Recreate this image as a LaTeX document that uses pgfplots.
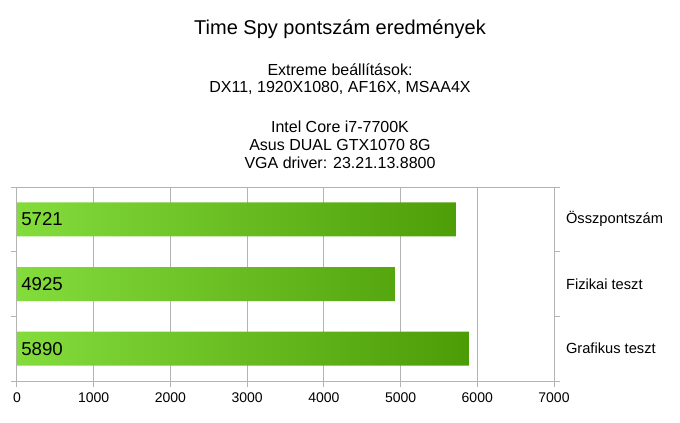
\documentclass[border=0pt]{standalone}
\usepackage{pgfplots}
\pgfplotsset{compat=1.18}
\usepackage{pgfplotstable}
\usepackage{fontspec}
\setmainfont{Liberation Sans}
\definecolor{barL}{HTML}{84DC3C}
\definecolor{barR}{HTML}{4C9C06}
\definecolor{gridc}{HTML}{B3B3B3}
\pgfplotstableread{
y val
2 5721
1 4925
0 5890
}\data
\begin{document}
\begin{tikzpicture}
\path[use as bounding box] (0,0) rectangle (510pt,316.5pt);
\node[font=\fontsize{15}{18}\selectfont] at (255pt,294.75pt) {Time Spy pontszám eredmények};
\begin{scope}[every node/.style={font=\fontsize{12}{14}\selectfont}]
\node at (255pt,264pt) {Extreme beállítások:};
\node at (255pt,250.5pt) {DX11, 1920X1080, AF16X, MSAA4X};
\node at (255pt,221.25pt) {Intel Core i7-7700K};
\node at (255pt,207.75pt) {Asus DUAL GTX1070 8G};
\node at (255pt,194.25pt) {VGA driver: 23.21.13.8800};
\end{scope}
\begin{axis}[
  at={(12.75pt,30.75pt)}, anchor=south west,
  scale only axis, width=402.75pt, height=145.5pt,
  xmin=0, xmax=7000, ymin=-0.5, ymax=2.5,
  xtick={0,1000,...,7000},
  ytick={0,1,2},
  yticklabels={Grafikus teszt, Fizikai teszt, Összpontszám},
  minor ytick={-0.5,0.5,1.5,2.5},
  yticklabel pos=right,
  xtick pos=bottom,
  ytick pos=both,
  tick align=outside,
  major tick length=4.5pt,
  minor tick length=4.5pt,
  major y tick style={draw=none},
  minor y tick style={gridc},
  major x tick style={gridc},
  xmajorgrids,
  grid style={gridc, line width=0.75pt},
  axis line style={gridc, line width=0.75pt},
  every tick/.style={gridc, line width=0.75pt},
  /pgf/number format/.cd, 1000 sep={}, assume math mode=true, /pgfplots/.cd,
  xticklabel style={font=\fontsize{10.5}{12}\selectfont, yshift=-1pt},
  yticklabel style={font=\fontsize{11}{13}\selectfont, anchor=west, xshift=1pt},
  clip=false,
]
\addplot[xbar, bar shift=0pt, bar width=25.5pt, draw=none, left color=barL, right color=barR]
  table[x=val, y=y] {\data};
\addplot[draw=none, mark=none, nodes near coords, point meta=explicit,
  nodes near coords style={anchor=west, inner sep=0pt, xshift=3pt, font=\fontsize{14}{16}\selectfont, black}]
  table[x expr=0, y=y, meta=val] {\data};
\end{axis}
\end{tikzpicture}
\end{document}
